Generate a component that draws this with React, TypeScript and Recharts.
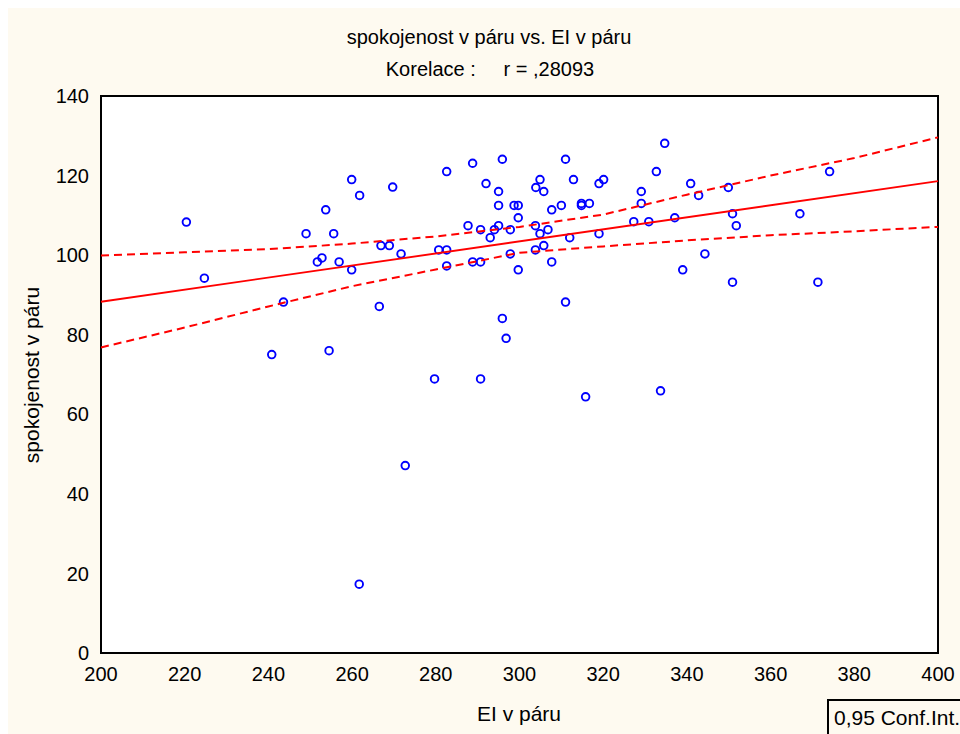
import { ScatterChart, Scatter, XAxis, YAxis, CartesianGrid, ReferenceArea } from "recharts";

// EI v páru (x) and spokojenost v páru (y)
const elVParu = [
  220.4, 224.7, 240.8, 243.6, 249.0, 251.7, 252.8, 253.7, 254.5, 255.6,
  256.9, 259.9, 259.9, 261.8, 261.7, 266.5, 266.9, 268.9, 269.7, 271.7,
  272.7, 279.7, 280.7, 282.6, 282.6, 282.6, 287.7, 288.8, 288.8, 290.7,
  290.7, 290.7, 292.0, 293.0, 294.0, 295.0, 295.0, 295.0, 295.9, 295.9,
  296.8, 297.8, 297.8, 298.7, 299.7, 299.7, 299.7, 303.8, 303.8, 303.9,
  304.9, 304.9, 305.8, 305.8, 306.8, 307.7, 307.7, 310.0, 311.0, 311.0,
  312.0, 312.9, 314.8, 314.8, 316.7, 315.8, 319.0, 319.0, 320.1, 327.3,
  329.1, 329.1, 330.9, 332.7, 333.7, 334.7, 337.1, 339.0, 340.9, 342.8,
  344.3, 349.9, 350.9, 350.9, 351.8, 367.0, 371.3, 374.1,
];
const spokojenost = [
  108.3, 94.2, 75.0, 88.2, 105.4, 98.3, 99.3, 111.4, 76.0, 105.4,
  98.3, 119.0, 96.3, 115.0, 17.3, 87.1, 102.4, 102.4, 117.1, 100.3,
  47.1, 68.9, 101.3, 101.3, 121.0, 97.3, 107.4, 123.1, 98.3, 106.4,
  98.3, 68.9, 118.0, 104.4, 106.4, 107.4, 116.0, 112.5, 124.1, 84.1,
  79.1, 106.4, 100.3, 112.5, 112.5, 109.4, 96.3, 107.4, 101.3, 117.0,
  119.0, 105.4, 116.0, 102.4, 106.4, 111.4, 98.3, 112.5, 124.1, 88.2,
  104.4, 119.0, 113.0, 112.5, 113.0, 64.4, 118.0, 105.4, 119.0, 108.4,
  116.0, 113.0, 108.4, 121.0, 65.9, 128.1, 109.4, 96.3, 118.0, 115.0,
  100.3, 117.0, 110.4, 93.2, 107.4, 110.4, 93.2, 121.0,
];

// regression line and 0,95 confidence band
const fitX = [200, 400];
const fitY = [88.3, 118.6];
const ciX = [200, 220, 240, 260, 280, 300, 320, 340, 360, 380, 400];
const ciUpper = [99.9, 100.7, 101.5, 102.9, 104.7, 107.1, 110.2, 115.2, 120.0, 124.4, 129.6];
const ciLower = [76.8, 81.8, 87.1, 92.2, 96.4, 100.6, 102.2, 103.7, 105.0, 106.0, 107.1];

const xTicks = [200, 220, 240, 260, 280, 300, 320, 340, 360, 380, 400];
const yTicks = [0, 20, 40, 60, 80, 100, 120, 140];

const points = elVParu.map((x, i) => ({ x, y: spokojenost[i] }));
const fitLine = fitX.map((x, i) => ({ x, y: fitY[i] }));
const upperLine = ciX.map((x, i) => ({ x, y: ciUpper[i] }));
const lowerLine = ciX.map((x, i) => ({ x, y: ciLower[i] }));

const FONT = "'Liberation Sans', Arial, sans-serif";
const BG = "#fefaf0";

const Ring = (props: any) => (
  <circle cx={props.cx} cy={props.cy} r={3.8} fill="none" stroke="#0000ff" strokeWidth={1.9} />
);
const NoDot = () => <g />;

export default function App() {
  return (
    <div
      style={{
        position: "absolute",
        left: 8,
        top: 8,
        width: 952,
        height: 726,
        overflow: "hidden",
        background: BG,
        fontFamily: FONT,
        color: "#000",
      }}
    >
      <ScatterChart width={952} height={726} margin={{ top: 88, right: 22, bottom: 0, left: 0 }} style={{ overflow: "visible" }}>
        <ReferenceArea x1={200} x2={400} y1={0} y2={140} fill="#ffffff" fillOpacity={1} stroke="none" />
        <CartesianGrid stroke="#dcdcdc" strokeWidth={1} />
        <XAxis
          type="number"
          dataKey="x"
          domain={[200, 400]}
          ticks={xTicks}
          height={81}
          tickLine={false}
          axisLine={false}
          tickSize={4}
          tickMargin={10}
          tick={{ fill: "#000", fontSize: 20, fontFamily: FONT }}
        />
        <YAxis
          type="number"
          dataKey="y"
          domain={[0, 140]}
          ticks={yTicks}
          width={93}
          tickLine={false}
          axisLine={false}
          tickSize={4}
          tickMargin={8}
          tick={{ fill: "#000", fontSize: 20, fontFamily: FONT }}
        />
        <Scatter data={points} shape={Ring} isAnimationActive={false} />
        <Scatter
          data={fitLine}
          line={{ stroke: "#ff0000", strokeWidth: 1.9 }}
          shape={NoDot}
          isAnimationActive={false}
        />
        <Scatter
          data={upperLine}
          line={{ stroke: "#ff0000", strokeWidth: 2, strokeDasharray: "8 5" }}
          shape={NoDot}
          isAnimationActive={false}
        />
        <Scatter
          data={lowerLine}
          line={{ stroke: "#ff0000", strokeWidth: 2, strokeDasharray: "8 5" }}
          shape={NoDot}
          isAnimationActive={false}
        />
        <ReferenceArea x1={200} x2={400} y1={0} y2={140} fill="none" stroke="#000" strokeWidth={2} />
      </ScatterChart>

      <div style={{ position: "absolute", left: 0, width: 962, top: 18, textAlign: "center", fontSize: 20, lineHeight: "23px" }}>
        spokojenost v páru vs. EI v páru
      </div>
      <div
        style={{
          position: "absolute",
          left: 0,
          width: 964,
          top: 50,
          textAlign: "center",
          fontSize: 20,
          lineHeight: "23px",
          whiteSpace: "pre",
        }}
      >
        {"Korelace :     r = ,28093"}
      </div>
      <div
        style={{
          position: "absolute",
          left: 24,
          top: 367,
          fontSize: 21,
          whiteSpace: "nowrap",
          transform: "translate(-50%, -50%) rotate(-90deg)",
        }}
      >
        spokojenost v páru
      </div>
      <div style={{ position: "absolute", left: 511, top: 706, fontSize: 21, whiteSpace: "nowrap", transform: "translate(-50%, -50%)" }}>
        EI v páru
      </div>
      <div
        style={{
          position: "absolute",
          left: 819,
          top: 691,
          width: 140,
          height: 35,
          borderLeft: "2px solid #000",
          borderTop: "2px solid #000",
          boxSizing: "border-box",
          padding: "4px 0 0 5px",
          fontSize: 21,
          lineHeight: "26px",
          whiteSpace: "nowrap",
        }}
      >
        0,95 Conf.Int.
      </div>
    </div>
  );
}
